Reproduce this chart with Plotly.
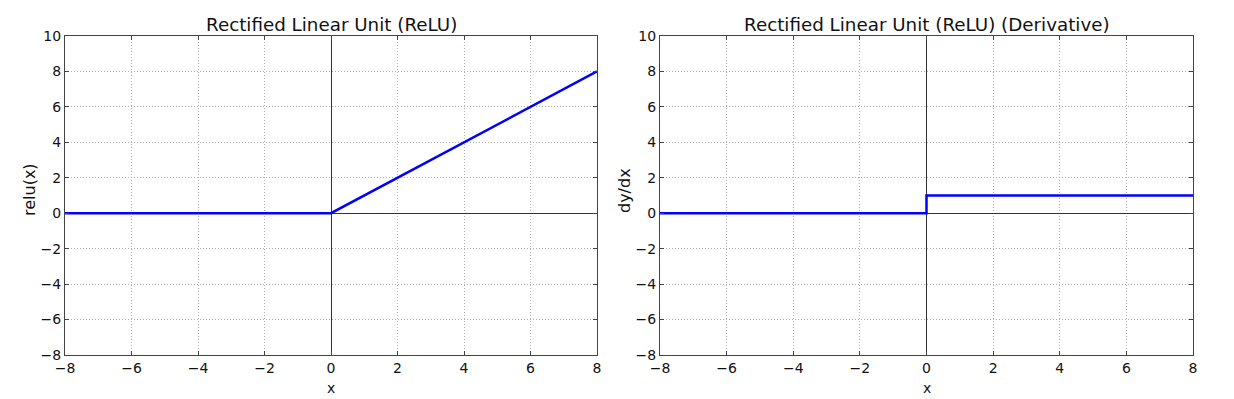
import plotly.graph_objects as go

# Data
relu_x = [-8, 0, 8]
relu_y = [0, 0, 8]
deriv_x = [-8, 0, 0, 8]
deriv_y = [0, 0, 1, 1]
tick_vals_x = [-8, -6, -4, -2, 0, 2, 4, 6, 8]
tick_vals_y = [-8, -6, -4, -2, 0, 2, 4, 6, 8, 10]
titles = ["Rectified Linear Unit (ReLU)", "Rectified Linear Unit (ReLU) (Derivative)"]
ylabels = ["relu(x)", "dy/dx"]
xlabel = "x"

W, H = 1234, 399
FONT = "DejaVu Sans"

fig = go.Figure()
fig.add_trace(go.Scatter(x=relu_x, y=relu_y, mode="lines",
                         line=dict(color="#0000ff", width=2.5), xaxis="x", yaxis="y",
                         showlegend=False))
fig.add_trace(go.Scatter(x=deriv_x, y=deriv_y, mode="lines",
                         line=dict(color="#0000ff", width=2.5), xaxis="x2", yaxis="y2",
                         showlegend=False))

px = [(65, 597), (660, 1193)]
top, bottom = 36, 355
ydom = [1 - bottom / H, 1 - top / H]

axcommon = dict(
    showline=True, linecolor="#444", linewidth=1.2, mirror="ticks",
    ticks="inside", ticklen=4, tickcolor="#444",
    showgrid=True, gridcolor="#b0b0b0", griddash="1px,2px", gridwidth=1,
    zeroline=True, zerolinecolor="#333", zerolinewidth=1,
    tickfont=dict(family=FONT, size=14, color="#111"),
    fixedrange=True,
)

layout = dict(width=W, height=H, margin=dict(l=0, r=0, t=0, b=0, autoexpand=False),
              paper_bgcolor="white", plot_bgcolor="white",
              font=dict(family=FONT, color="#111"))
for i, (l, r) in enumerate(px):
    sfx = "" if i == 0 else str(i + 1)
    layout["xaxis" + sfx] = dict(axcommon, domain=[l / W, r / W], range=[-8, 8],
                                 tickvals=tick_vals_x, anchor="y" + sfx)
    layout["yaxis" + sfx] = dict(axcommon, domain=ydom, range=[-8, 10],
                                 tickvals=tick_vals_y, anchor="x" + sfx)
fig.update_layout(**layout)

anns = []
for i, (l, r) in enumerate(px):
    cx = (l + r) / 2
    anns.append(dict(text=titles[i], x=cx / W, y=1 - 24 / H, xref="paper", yref="paper",
                     showarrow=False, font=dict(family=FONT, size=18.3, color="#111"),
                     xanchor="center", yanchor="middle"))
    anns.append(dict(text=xlabel, x=cx / W, y=1 - 388 / H, xref="paper", yref="paper",
                     showarrow=False, font=dict(family=FONT, size=14, color="#111"),
                     xanchor="center", yanchor="middle"))
    anns.append(dict(text=ylabels[i], x=(l - 36) / W, y=1 - 190 / H, xref="paper", yref="paper",
                     showarrow=False, textangle=-90, font=dict(family=FONT, size=16, color="#111"),
                     xanchor="center", yanchor="middle"))
fig.update_layout(annotations=anns)

fig.write_html("out.html", config={"displayModeBar": False},
               post_script="document.body.style.margin='0';document.body.style.overflow='hidden';")
